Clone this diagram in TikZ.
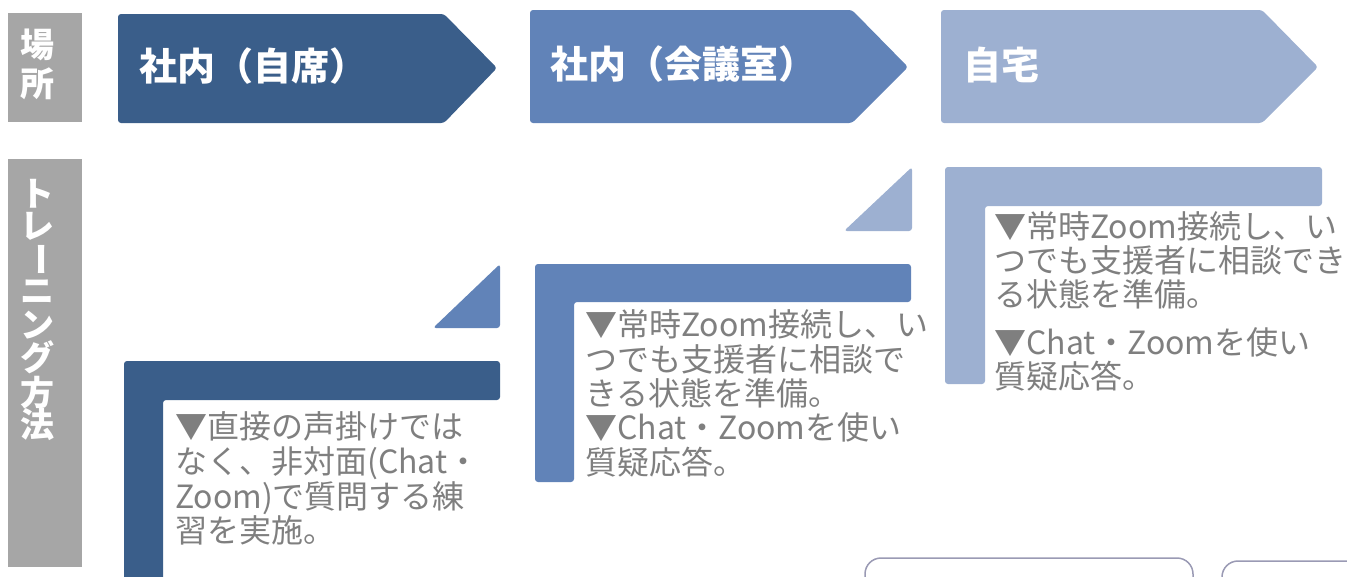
\documentclass[tikz,border=0pt]{standalone}
\usepackage{fontspec}
\setmainfont{Noto Sans CJK JP}
\usepackage{graphicx}
\definecolor{cA}{HTML}{3A5E8A}
\definecolor{cB}{HTML}{6183B8}
\definecolor{cC}{HTML}{9DB0D1}
\definecolor{lbl}{HTML}{A6A6A6}
\definecolor{txt}{HTML}{7F7F7F}
\definecolor{frm}{HTML}{9A9AB4}
\begin{document}
\begin{tikzpicture}[x=1pt,y=-1pt,
  body/.style={anchor=base west, inner sep=0pt, text=txt, font=\fontsize{32}{34}\selectfont},
  head/.style={anchor=base west, inner sep=0pt, text=white, font=\bfseries\fontsize{38}{40}\selectfont},
  side/.style={inner sep=0pt, text=white, font=\bfseries\fontsize{34}{36}\selectfont},
  lblbox/.style={fill=lbl},
  shp/.style={rounded corners=3pt},
  card/.style={draw=frm, line width=1.5pt, fill=white, rounded corners=16pt}
  ]
\useasboundingbox (0,0) rectangle (1347,576);
\clip (0,0) rectangle (1347,576);
% left labels
\fill[lblbox] (8,12.5) rectangle (82,122);
\node[side] (p1) at (37,45) {場};
\node[side] (p2) at (37,84) {所};
\fill[lblbox] (8,159) rectangle (82,567);
\node[side] (t1) at (37,194) {ト};
\node[side] (t2) at (37,226) {レ};
\node[side, rotate=-90] (t3) at (37,259) {ー};
\node[side] (t4) at (37,292) {ニ};
\node[side] (t5) at (37,325) {ン};
\node[side] (t6) at (37,357) {グ};
\node[side] (t7) at (37,393) {方};
\node[side] (t8) at (37,425) {法};
% chevrons
\fill[cA, shp] (118,14) -- (444,14) -- (497,68) -- (444,123) -- (118,123) -- cycle;
\fill[cB, shp] (530,10) -- (852,10) -- (908,67) -- (852,123) -- (530,123) -- cycle;
\fill[cC, shp] (941,10) -- (1262,10) -- (1318,67) -- (1262,123) -- (941,123) -- cycle;
\node[head] (h1) at (139,80) {社内（自席）};
\node[head] (h2) at (550,78) {社内（会議室）};
\node[head] (h3) at (963,79) {自宅};
% steps
\fill[cA, shp] (124,590) -- (124,361) -- (500,361) -- (500,400) -- (163,400) -- (163,590) -- cycle;
\fill[cB, shp] (433,328) -- (500,264) -- (500,328) -- cycle;
\fill[cB, shp] (535,482) -- (535,264) -- (911,264) -- (911,302) -- (574,302) -- (574,482) -- cycle;
\fill[cC, shp] (844,231) -- (912,167) -- (912,231) -- cycle;
\fill[cC, shp] (945,384) -- (945,167) -- (1322,167) -- (1322,206) -- (985,206) -- (985,384) -- cycle;
% step texts
\node[body] (a1) at (175,438) {▼直接の声掛けでは};
\node[body] (a2) at (175,473) {なく、非対面(Chat・};
\node[body] (a3) at (175,508) {Zoom)で質問する練};
\node[body] (a4) at (175,542) {習を実施。};
\node[body] (b1) at (585,336) {▼常時Zoom接続し、い};
\node[body] (b2) at (585,371) {つでも支援者に相談で};
\node[body] (b3) at (585,405) {きる状態を準備。};
\node[body] (b4) at (585,439) {▼Chat・Zoomを使い};
\node[body] (b5) at (585,474) {質疑応答。};
\node[body] (c1) at (994,238) {▼常時Zoom接続し、い};
\node[body] (c2) at (994,272) {つでも支援者に相談でき};
\node[body] (c3) at (994,306) {る状態を準備。};
\node[body] (c4) at (994,354) {▼Chat・Zoomを使い};
\node[body] (c5) at (994,388) {質疑応答。};
% partial cards at the bottom
\draw[card] (865,600) rectangle (1193,558);
\draw[card] (1222,600) rectangle (1400,561);
\end{tikzpicture}
\end{document}
